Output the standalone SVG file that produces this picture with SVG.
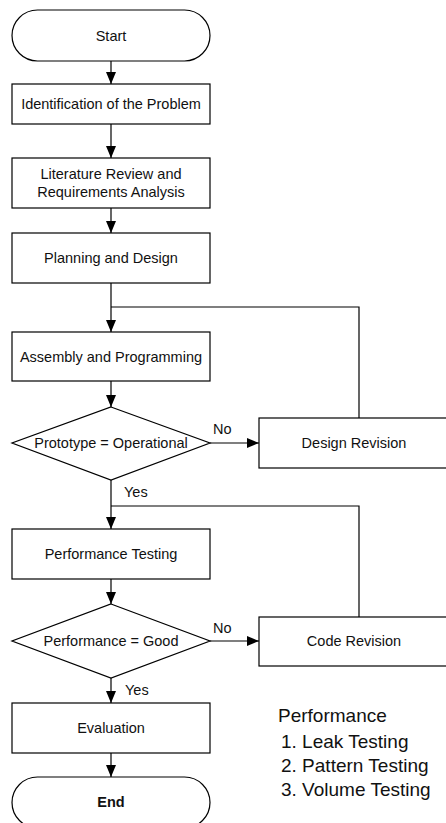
<svg xmlns="http://www.w3.org/2000/svg" width="446" height="823" viewBox="0 0 446 823">
<defs>
<marker id="ah" markerUnits="userSpaceOnUse" markerWidth="12" markerHeight="10" refX="12" refY="5" orient="auto">
<path d="M0,0 L12,5 L0,10 Z" fill="#000"/>
</marker>
<style>
.n{fill:#fff;stroke:#000;stroke-width:1.2}
.t{font-family:"Liberation Sans",Arial,sans-serif;font-size:14.5px;fill:#111;text-anchor:middle}
.l{font-family:"Liberation Sans",Arial,sans-serif;font-size:14.5px;fill:#111}
.c{fill:none;stroke:#000;stroke-width:1.2}
.a{marker-end:url(#ah)}
.p{font-family:"Liberation Sans",Arial,sans-serif;font-size:19px;fill:#111}
</style>
</defs>
<rect width="446" height="823" fill="#fff"/>
<g id="connectors">
<path class="c a" d="M111,61 V84"/>
<path class="c a" d="M111,124 V158"/>
<path class="c a" d="M111,208 V233"/>
<path class="c a" d="M111,283 V332"/>
<path class="c" d="M359,418 V307 H111"/>
<path class="c a" d="M111,381 V407"/>
<path class="c a" d="M210,443 H259"/>
<path class="c a" d="M111,480 V529"/>
<path class="c" d="M359,617 V506 H111"/>
<path class="c a" d="M111,579 V604"/>
<path class="c a" d="M210,641 H259"/>
<path class="c a" d="M111,678 V703"/>
<path class="c a" d="M111,753 V777"/>
<text class="l" x="213" y="434">No</text>
<text class="l" x="124" y="497">Yes</text>
<text class="l" x="213" y="633">No</text>
<text class="l" x="125" y="695">Yes</text>
</g>
<g id="start">
<rect class="n" x="12" y="10" width="198" height="51" rx="25.5"/>
<text class="t" x="111" y="40.5">Start</text>
</g>
<g id="identification">
<rect class="n" x="12" y="84" width="198" height="40"/>
<text class="t" x="111" y="109">Identification of the Problem</text>
</g>
<g id="literature">
<rect class="n" x="12" y="158" width="198" height="50"/>
<text class="t" x="111" y="179">Literature Review and</text>
<text class="t" x="111" y="196.5">Requirements Analysis</text>
</g>
<g id="planning">
<rect class="n" x="12" y="233" width="198" height="50"/>
<text class="t" x="111" y="263">Planning and Design</text>
</g>
<g id="assembly">
<rect class="n" x="12" y="332" width="198" height="49"/>
<text class="t" x="111" y="361.5">Assembly and Programming</text>
</g>
<g id="prototype">
<polygon class="n" points="111,407 210,443 111,480 12,443"/>
<text class="t" x="111" y="448">Prototype = Operational</text>
</g>
<g id="design-revision">
<rect class="n" x="259" y="418" width="190" height="50"/>
<text class="t" x="354" y="448">Design Revision</text>
</g>
<g id="performance-testing">
<rect class="n" x="12" y="529" width="198" height="50"/>
<text class="t" x="111" y="559">Performance Testing</text>
</g>
<g id="performance-good">
<polygon class="n" points="111,604 210,641 111,678 12,641"/>
<text class="t" x="111" y="646">Performance = Good</text>
</g>
<g id="code-revision">
<rect class="n" x="259" y="617" width="190" height="49"/>
<text class="t" x="354" y="646">Code Revision</text>
</g>
<g id="evaluation">
<rect class="n" x="12" y="703" width="198" height="50"/>
<text class="t" x="111" y="733">Evaluation</text>
</g>
<g id="end">
<rect class="n" x="12" y="777" width="198" height="51" rx="25.5"/>
<text class="t" x="111" y="807" font-weight="bold">End</text>
</g>
<g id="note">
<text class="p" x="278" y="722">Performance</text>
<text class="p" x="281" y="748">1. Leak Testing</text>
<text class="p" x="281" y="772">2. Pattern Testing</text>
<text class="p" x="281" y="796">3. Volume Testing</text>
</g>
</svg>
